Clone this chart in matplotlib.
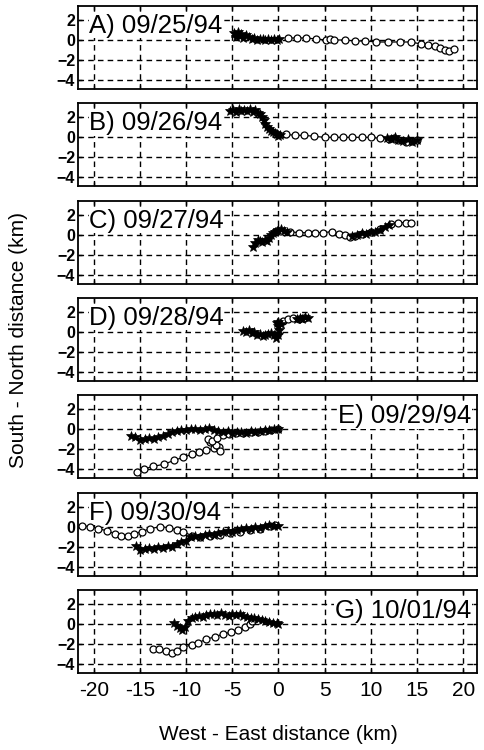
import matplotlib
matplotlib.use("Agg")
import matplotlib.pyplot as plt

plt.rcParams['font.family'] = ['Liberation Sans', 'DejaVu Sans']

labels = ["A) 09/25/94", "B) 09/26/94", "C) 09/27/94", "D) 09/28/94",
          "E) 09/29/94", "F) 09/30/94", "G) 10/01/94"]
label_side = ["left", "left", "left", "left", "right", "left", "right"]

xticks = [-20, -15, -10, -5, 0, 5, 10, 15, 20]
yticks = [2, 0, -2, -4]

# Panel A
a_star_x = [-4.8, -4.6, -4.4, -4.2, -4.0, -3.8, -3.5, -3.2, -2.9, -2.6, -2.3, -2.0, -1.7, -1.4, -1.1, -0.8, -0.5, -0.2, 0.1]
a_star_y = [0.7, 0.3, 0.8, 0.4, 0.6, 0.2, 0.5, 0.3, 0.1, 0.2, 0.0, 0.1, 0.1, 0.0, 0.1, 0.0, 0.1, 0.0, 0.1]
a_circ_x = [1.0, 2.0, 3.0, 4.1, 5.2, 5.6, 6.0, 7.2, 8.3, 9.4, 10.6, 11.9, 13.2, 14.4, 15.4, 16.2, 16.9, 17.5, 18.0, 18.5, 19.0]
a_circ_y = [0.2, 0.2, 0.2, 0.1, 0.0, 0.1, 0.0, 0.0, -0.1, -0.1, -0.2, -0.2, -0.2, -0.2, -0.4, -0.5, -0.6, -0.8, -1.0, -1.1, -0.9]

# Panel B
b_star_x = [-5.2, -4.9, -4.6, -4.3, -4.0, -3.7, -3.4, -3.1, -2.8, -2.5, -2.2, -2.0, -1.8, -1.6, -1.4, -1.2, -1.0, -0.8, -0.6, -0.4, -0.2, 0.0, 0.2]
b_star_y = [2.6, 2.7, 2.5, 2.8, 2.6, 2.7, 2.6, 2.8, 2.5, 2.7, 2.4, 2.3, 2.0, 1.7, 1.3, 1.0, 0.8, 0.6, 0.5, 0.4, 0.3, 0.1, 0.2]
b_circ_x = [0.8, 1.8, 2.8, 3.9, 5.0, 6.0, 7.0, 8.0, 9.0, 10.0, 11.0, 12.0, 12.5, 13.0, 13.8, 14.5, 15.0]
b_circ_y = [0.3, 0.2, 0.2, 0.1, 0.0, 0.0, 0.0, 0.0, 0.0, 0.0, -0.1, -0.2, -0.1, -0.3, -0.5, -0.4, -0.3]
b_star2_x = [11.8, 12.2, 12.6, 13.0, 13.5, 14.0, 14.5, 15.0]
b_star2_y = [-0.1, -0.2, 0.0, -0.3, -0.4, -0.2, -0.5, -0.3]

# Panel C
c_star_x = [-2.7, -2.5, -2.2, -2.0, -1.8, -1.5, -1.2, -1.0, -0.8, -0.6, -0.4, -0.2, 0.0, 0.3, 0.6, 0.9]
c_star_y = [-1.2, -0.8, -0.5, -0.6, -0.7, -0.5, -0.6, -0.3, 0.0, 0.2, 0.3, 0.4, 0.5, 0.6, 0.4, 0.3]
c_circ_x = [1.2, 2.2, 3.2, 4.0, 4.8, 5.8, 6.6, 7.2, 7.8, 8.3, 9.0, 10.0, 11.0, 12.2, 13.0, 13.8, 14.4]
c_circ_y = [0.3, 0.2, 0.2, 0.2, 0.2, 0.3, 0.1, 0.0, -0.2, -0.1, 0.1, 0.3, 0.6, 1.1, 1.2, 1.2, 1.2]
c_star2_x = [8.0, 8.5, 9.0, 9.5, 10.0, 10.5, 11.0, 11.5, 12.0]
c_star2_y = [-0.1, 0.0, 0.2, 0.1, 0.3, 0.3, 0.5, 0.8, 1.0]

# Panel D
d_star_x = [-3.8, -3.5, -3.2, -2.9, -2.6, -2.3, -2.0, -1.7, -1.4, -1.1, -0.8, -0.5, -0.3, 0.0, 0.1, 0.0, -0.2, 0.0, 0.3]
d_star_y = [0.1, 0.0, 0.2, -0.1, 0.0, -0.3, -0.2, -0.4, -0.3, -0.2, -0.1, -0.3, -0.6, -0.3, 0.2, 0.6, 0.9, 1.0, 0.8]
d_circ_x = [0.5, 1.0, 1.6, 2.2, 2.8]
d_circ_y = [1.1, 1.3, 1.4, 1.3, 1.4]
d_star2_x = [2.0, 2.3, 2.6, 2.9, 3.2]
d_star2_y = [1.3, 1.4, 1.3, 1.5, 1.4]

# Panel E
e_star_x = [-16.0, -15.5, -15.0, -14.5, -14.0, -13.5, -13.0, -12.5, -12.0, -11.5, -11.0, -10.5, -10.0, -9.5, -9.0, -8.5, -8.0, -7.5, -7.0, -6.5, -6.0, -5.5, -5.0, -4.5, -4.0, -3.5, -3.0, -2.5, -2.0, -1.5, -1.0, -0.5, 0.0]
e_star_y = [-0.7, -0.8, -1.1, -1.0, -0.9, -1.0, -0.8, -0.7, -0.5, -0.3, -0.2, -0.1, -0.1, 0.0, 0.0, -0.1, 0.0, 0.1, -0.1, -0.2, -0.3, -0.2, -0.4, -0.3, -0.3, -0.4, -0.2, -0.3, -0.2, -0.1, -0.1, 0.0, 0.0]
e_circ_x = [-15.3, -14.6, -13.6, -12.4, -11.3, -10.3, -9.4, -8.6, -7.8, -7.0, -6.4, -6.3, -6.8, -7.4, -7.6, -7.2, -6.6, -6.0, -5.4, -4.6, -3.8, -3.0, -2.2, -1.5, -0.8, 0.0]
e_circ_y = [-4.3, -4.0, -3.7, -3.5, -3.1, -2.8, -2.5, -2.3, -2.1, -1.9, -1.8, -2.2, -1.6, -1.3, -1.0, -1.2, -0.9, -0.6, -0.5, -0.4, -0.4, -0.3, -0.3, -0.2, -0.1, 0.0]

# Panel F
f_star_x = [-15.4, -15.0, -14.5, -14.0, -13.5, -13.0, -12.5, -12.0, -11.5, -11.0, -10.5, -10.0, -9.5, -9.0, -8.5, -8.0, -7.5, -7.0, -6.5, -6.0, -5.5, -5.0, -4.5, -4.0, -3.5, -3.0, -2.5, -2.0, -1.5, -1.0, -0.5, 0.0]
f_star_y = [-1.9, -2.3, -2.2, -2.1, -2.2, -2.0, -2.1, -1.9, -2.0, -1.7, -1.5, -1.4, -1.0, -0.9, -1.0, -0.8, -0.7, -0.8, -0.6, -0.5, -0.4, -0.5, -0.3, -0.2, -0.1, -0.2, 0.0, -0.1, 0.1, 0.2, 0.1, 0.1]
f_circ_x = [-21.3, -20.4, -19.5, -18.6, -17.7, -17.0, -16.3, -15.6, -14.8, -13.9, -12.8, -11.9, -11.0, -10.3, -9.4, -8.5, -7.4, -6.3, -5.2, -4.2, -3.1, -2.0, -0.9, -0.4]
f_circ_y = [0.1, 0.0, -0.2, -0.4, -0.7, -0.9, -0.9, -0.7, -0.5, -0.2, 0.0, -0.1, -0.3, -0.5, -0.9, -1.0, -0.9, -0.8, -0.6, -0.5, -0.3, -0.2, 0.1, 0.2]

# Panel G
g_star_x = [-11.3, -11.0, -10.7, -10.4, -10.1, -9.8, -9.4, -9.0, -8.6, -8.2, -7.8, -7.4, -7.0, -6.6, -6.2, -5.8, -5.4, -5.0, -4.6, -4.2, -3.8, -3.4, -3.0, -2.6, -2.2, -1.8, -1.4, -1.0, -0.6, -0.2, 0.0]
g_star_y = [0.1, -0.2, -0.4, -0.6, -0.3, 0.3, 0.6, 0.7, 0.8, 0.7, 0.9, 1.0, 1.0, 0.9, 1.1, 0.9, 0.8, 1.0, 0.9, 1.0, 0.8, 0.7, 0.6, 0.6, 0.5, 0.4, 0.3, 0.2, 0.1, 0.1, 0.0]
g_circ_x = [-13.6, -12.9, -12.2, -11.5, -11.0, -10.3, -9.4, -8.7, -7.8, -6.9, -6.0, -5.1, -4.4, -3.6, -3.1, -2.9]
g_circ_y = [-2.5, -2.5, -2.7, -2.9, -2.7, -2.3, -2.1, -1.9, -1.5, -1.3, -1.0, -0.8, -0.6, -0.3, 0.0, 0.3]

star_sets = [
    [(a_star_x, a_star_y)],
    [(b_star_x, b_star_y), (b_star2_x, b_star2_y)],
    [(c_star_x, c_star_y), (c_star2_x, c_star2_y)],
    [(d_star_x, d_star_y), (d_star2_x, d_star2_y)],
    [(e_star_x, e_star_y)],
    [(f_star_x, f_star_y)],
    [(g_star_x, g_star_y)],
]
circ_sets = [
    (a_circ_x, a_circ_y), (b_circ_x, b_circ_y), (c_circ_x, c_circ_y),
    (d_circ_x, d_circ_y), (e_circ_x, e_circ_y), (f_circ_x, f_circ_y),
    (g_circ_x, g_circ_y),
]

W, H = 485, 750
fig = plt.figure(figsize=(W / 100, H / 100), dpi=100)

left_px, right_px = 78, 477
top_px, bottom_px = 6, 673
ph = 83
step = (bottom_px - ph - top_px) / 6

for i in range(7):
    t = top_px + i * step
    ax = fig.add_axes([left_px / W, 1 - (t + ph) / H, (right_px - left_px) / W, ph / H])
    ax.set_xlim(-21.7, 21.5)
    ax.set_ylim(-4.9, 3.4)
    ax.set_xticks(xticks)
    ax.set_yticks(yticks)
    ax.grid(True, color='black', linestyle=(0, (4, 3)), linewidth=1.0)
    ax.set_axisbelow(True)
    for s in ax.spines.values():
        s.set_linewidth(1.3)
    ax.tick_params(direction='in', length=3, width=1, top=True, right=True,
                   labelsize=11.5, pad=2)
    for lab in ax.get_yticklabels():
        lab.set_fontweight('bold')
    if i < 6:
        ax.set_xticklabels([])
    else:
        ax.tick_params(axis='x', labelsize=15, pad=6)
        ax.set_xticklabels([str(v) for v in xticks])

    cx, cy = circ_sets[i]
    ax.plot(cx, cy, color='black', linewidth=0.9, marker='o', markersize=5,
            markerfacecolor='white', markeredgewidth=0.9, zorder=3)
    for sx, sy in star_sets[i]:
        ax.plot(sx, sy, color='black', linewidth=2.0, marker='*', markersize=7,
                markeredgewidth=0.5, zorder=4)

    if label_side[i] == 'left':
        ax.text(0.028, 0.76, labels[i], transform=ax.transAxes, fontsize=18.5,
                ha='left', va='center', zorder=2.6,
                bbox=dict(facecolor='white', edgecolor='none', pad=0.3))
    else:
        ax.text(0.985, 0.75, labels[i], transform=ax.transAxes, fontsize=18.5,
                ha='right', va='center', zorder=2.6,
                bbox=dict(facecolor='white', edgecolor='none', pad=0.3))

fig.text(278 / W, 1 - 735 / H, "West - East distance (km)", fontsize=15,
         ha='center', va='center')
fig.text(19 / W, 1 - 340 / H, "South - North distance (km)", fontsize=15,
         ha='center', va='center', rotation=90)

fig.savefig("out.png", dpi=100)
